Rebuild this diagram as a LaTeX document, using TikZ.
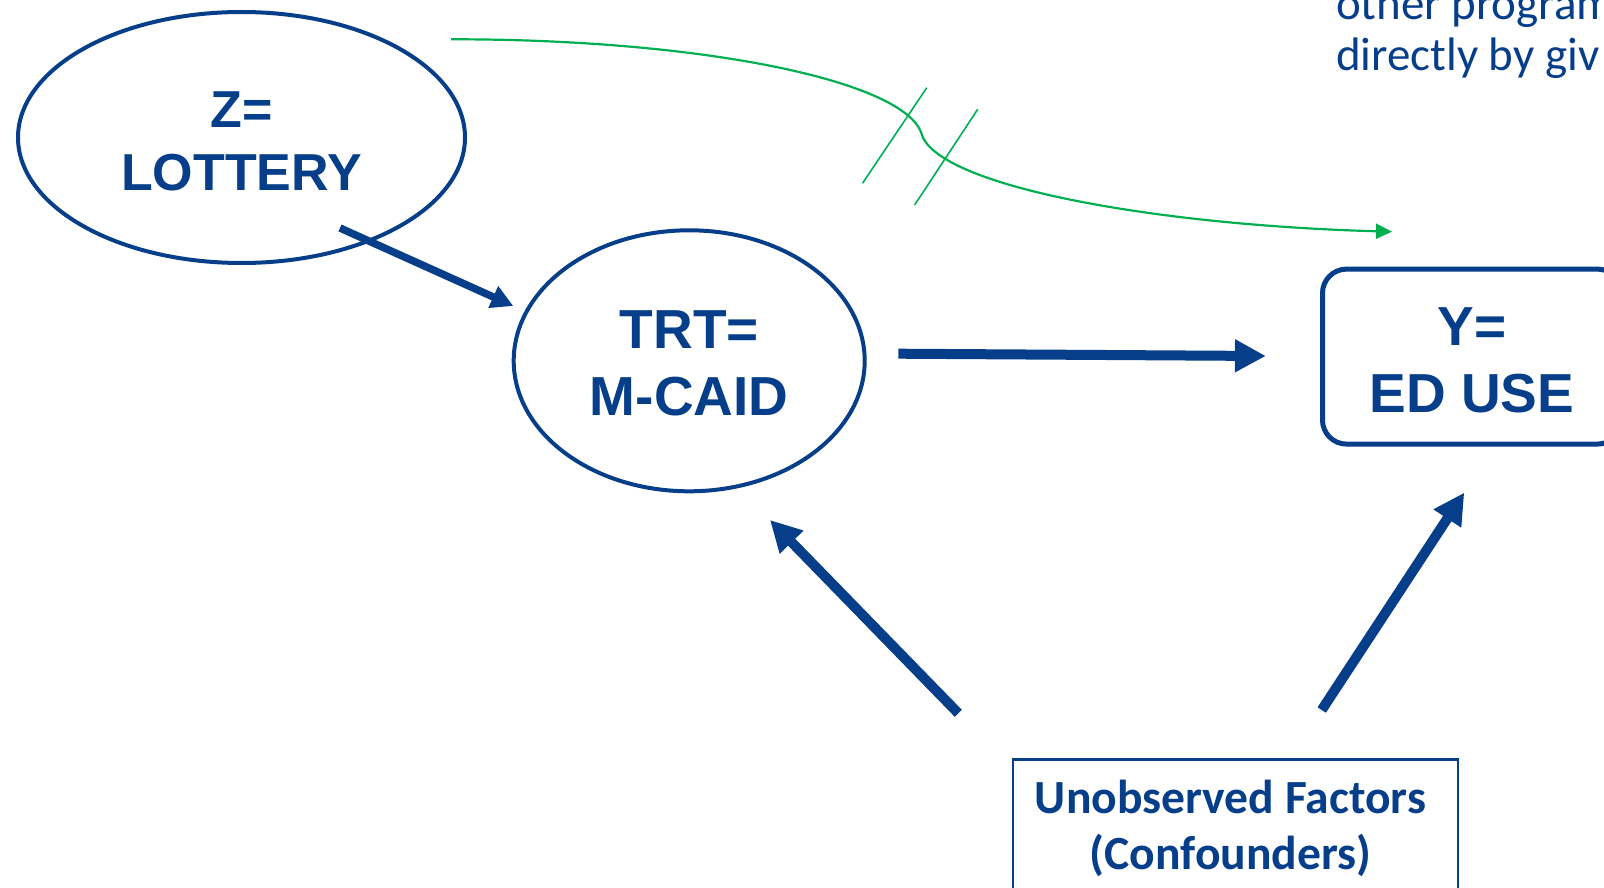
\documentclass[tikz,border=0pt]{standalone}
\usepackage{fontspec}
\setmainfont{Liberation Sans}
\newfontfamily\bodyfont{Carlito}
\usetikzlibrary{arrows.meta,shapes.geometric,calc}
\definecolor{navy}{RGB}{6,62,138}
\definecolor{leafgreen}{RGB}{0,176,80}
\begin{document}
\begin{tikzpicture}[x=1pt,y=-1pt,
  var/.style={ellipse, draw=navy, line width=4pt, inner sep=0pt, outer sep=0pt, text=navy, align=center, text depth=0pt},
  outcome/.style={rectangle, rounded corners=24pt, draw=navy, line width=5pt, inner sep=0pt, outer sep=0pt, text=navy, align=center, text depth=0pt},
  note/.style={rectangle, draw=navy, line width=2.2pt, inner xsep=0pt, inner ysep=16.5pt, outer sep=0pt, text=navy, align=center},
  causal/.style={draw=navy, line width=10pt, -{Triangle[length=31pt,width=31pt]}},
  feed/.style={draw=navy, line width=7.5pt, -{Triangle[length=22pt,width=22.5pt]}},
  bypass/.style={draw=leafgreen, line width=2.2pt, -{Triangle[length=16pt,width=15pt]}},
  cut/.style={draw=leafgreen, line width=1.6pt},
]
\useasboundingbox (0,0) rectangle (1604,888);

% variables of the causal graph
\node[var, minimum width=447pt, minimum height=251pt, text height=105pt,
      font=\bfseries\fontsize{52}{63}\selectfont] (lottery) at (241.5,137.5) {Z=\\LOTTERY};
\node[var, minimum width=351pt, minimum height=261pt, text height=108.4pt,
      font=\bfseries\fontsize{55}{66.5}\selectfont] (medicaid) at (689.2,360.8) {TRT=\\M-CAID};
\node[outcome, minimum width=299pt, minimum height=175pt, text height=111pt,
      font=\bfseries\fontsize{55}{67}\selectfont] (edvisits) at (1472,356.6) {Y=\\ED USE};
\node[note, minimum width=445pt, anchor=north, text height=93.7pt, text depth=16pt,
      font=\bodyfont\bfseries\fontsize{47.6}{56}\selectfont] (confound) at (1235.5,759.5)
      {Unobserved Factors\hspace*{10pt}\\(Confounders)\hspace*{10pt}};

% side text running off the right edge
\node[anchor=base west, inner sep=0pt, outer sep=0pt, text=navy, align=left,
      font=\bodyfont\fontsize{47}{51}\selectfont] (aside) at (1336,71)
      {other program\\directly by giv};

% causal arrows
\draw[feed] ($(lottery.center)+(98.5,90.5)$) -- ($(medicaid.center)+(-175.9,-54.8)$);
\draw[causal] ($(medicaid.east)+(33.6,-7.1)$) -- ($(edvisits.west)+(-56.6,-0.6)$);
\draw[causal] ($(confound.north)+(-277.2,-46.2)$) -- ($(medicaid.center)+(80.8,159.2)$);
\draw[causal] ($(confound.north)+(86.2,-49.5)$) -- ($(edvisits.south)+(-7.7,48.5)$);

% excluded direct path from Z to Y, struck through
\coordinate (bypassstart) at (451,39.3);
\coordinate (bypassend) at (1392,231.7);
\draw[bypass] (bypassstart) .. controls (700,39) and (900,80) .. (921,132)
  .. controls (932,185) and (1150,225) .. (bypassend);
\draw[cut] (862.5,183.3) -- (926.8,87.7);
\draw[cut] (914.6,205) -- (977.7,109.3);
\end{tikzpicture}
\end{document}
